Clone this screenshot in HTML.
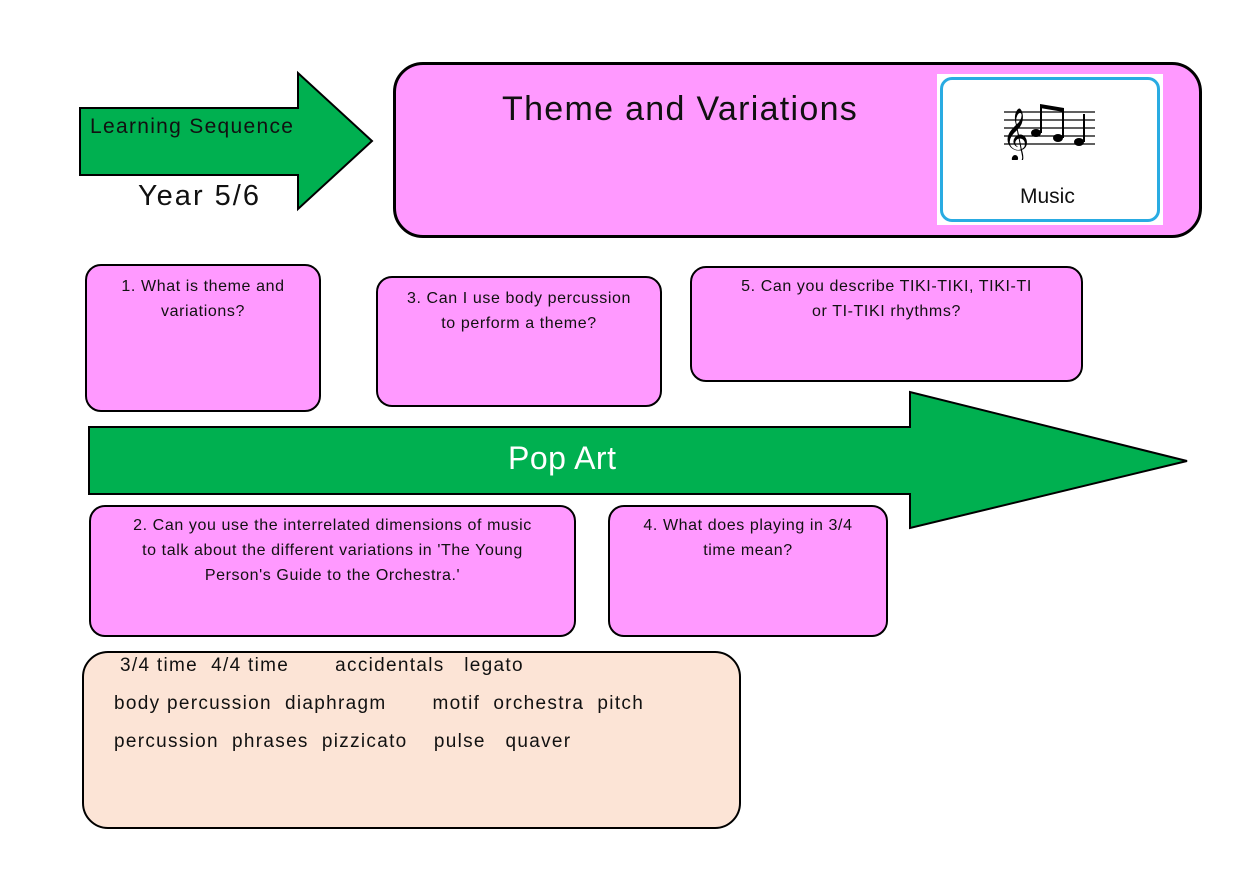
<!DOCTYPE html>
<html><head><meta charset="utf-8"><style>
body{margin:0;width:1260px;height:891px;background:#fff;position:relative;overflow:hidden;font-family:"Liberation Sans",sans-serif;color:#111}
.b{position:absolute;background:#ff99ff;border:2.5px solid #000;border-radius:16px;box-sizing:border-box;text-align:center;font-size:16px;line-height:25px;letter-spacing:0.6px}
.t{position:absolute;white-space:nowrap}
.v{font-size:19px;letter-spacing:1.3px}
</style></head><body>
<svg width="1260" height="891" style="position:absolute;left:0;top:0">
<polygon points="80,108 298,108 298,73 372,141 298,209 298,175 80,175" fill="#00b050" stroke="#000" stroke-width="2"/>
<polygon points="89,427 910,427 910,392 1187,461 910,528 910,494 89,494" fill="#00b050" stroke="#000" stroke-width="2"/>
</svg>
<div class="t" style="left:90px;top:115px;font-size:21px;letter-spacing:1.3px">Learning Sequence</div>
<div class="t" style="left:138px;top:180px;font-size:29px;letter-spacing:2px">Year 5/6</div>
<div class="b" style="left:393px;top:62px;width:809px;height:176px;border-radius:30px;border-width:3px"></div>
<div class="t" style="left:502px;top:90px;font-size:34px;letter-spacing:1.3px">Theme and Variations</div>
<div style="position:absolute;left:937px;top:74px;width:226px;height:151px;background:#fff"></div>
<div style="position:absolute;left:940px;top:77px;width:220px;height:145px;border:3px solid #29abe2;border-radius:12px;box-sizing:border-box;background:#fff"></div>
<svg width="100" height="60" style="position:absolute;left:1000px;top:100px">
<g stroke="#000" stroke-width="1.2"><line x1="4" y1="12" x2="95" y2="12"/><line x1="4" y1="20" x2="95" y2="20"/><line x1="4" y1="28" x2="95" y2="28"/><line x1="4" y1="36" x2="95" y2="36"/><line x1="4" y1="44" x2="95" y2="44"/></g>
<text x="2" y="50" font-size="46" font-family="DejaVu Sans">𝄞</text>
<g fill="#000"><ellipse cx="36" cy="33" rx="5" ry="4"/><ellipse cx="58" cy="38" rx="5" ry="4"/><ellipse cx="79" cy="42" rx="5" ry="4"/>
<rect x="40" y="6" width="2" height="27"/><rect x="62" y="9" width="2" height="29"/><rect x="83" y="14" width="2" height="28"/>
<polygon points="40,4 64,8 64,12 40,8"/></g></svg>
<div class="t" style="left:1020px;top:185px;font-size:21px">Music</div>
<div class="b" style="left:85px;top:264px;width:236px;height:148px;padding-top:8px">1. What is theme and<br>variations?</div>
<div class="b" style="left:376px;top:276px;width:286px;height:131px;padding-top:8px">3. Can I use body percussion<br>to perform a theme?</div>
<div class="b" style="left:690px;top:266px;width:393px;height:116px;padding-top:6px">5. Can you describe TIKI-TIKI, TIKI-TI<br>or TI-TIKI rhythms?</div>
<div class="t" style="left:508px;top:440px;font-size:32px;color:#fff;letter-spacing:0.5px">Pop Art</div>
<div class="b" style="left:89px;top:505px;width:487px;height:132px;padding-top:6px">2. Can you use the interrelated dimensions of music<br>to talk about the different variations in 'The Young<br>Person's Guide to the Orchestra.'</div>
<div class="b" style="left:608px;top:505px;width:280px;height:132px;padding-top:6px">4. What does playing in 3/4<br>time mean?</div>
<div class="b" style="left:82px;top:651px;width:659px;height:178px;background:#fce4d6;border-radius:26px"></div>
<div class="t v" style="left:120px;top:655px">3/4 time&nbsp; 4/4 time&nbsp;&nbsp;&nbsp;&nbsp;&nbsp;&nbsp; accidentals&nbsp;&nbsp; legato</div>
<div class="t v" style="left:114px;top:693px">body percussion&nbsp; diaphragm&nbsp;&nbsp;&nbsp;&nbsp;&nbsp;&nbsp; motif&nbsp; orchestra&nbsp; pitch</div>
<div class="t v" style="left:114px;top:731px">percussion&nbsp; phrases&nbsp; pizzicato&nbsp;&nbsp;&nbsp; pulse&nbsp;&nbsp; quaver</div>
</body></html>
